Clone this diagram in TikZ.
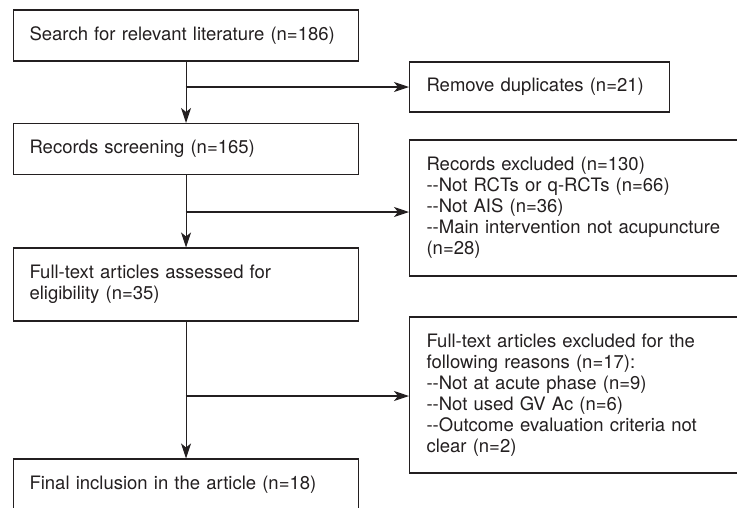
\documentclass[tikz,border=0pt]{standalone}
\usepackage{xcolor}
\usepackage{fontspec}
\setmainfont{TeX Gyre Heros}
\usepackage{tikz}
\usetikzlibrary{arrows.meta}
\usetikzlibrary{positioning}
\definecolor{ink}{HTML}{231F20}
\tikzset{>={Stealth[length=15pt, width=10pt, inset=4pt]}}
\tikzstyle{leftbox} = [rectangle, draw = ink, line width = 1.1pt, text = ink, align = left, inner xsep = 16pt, text width = 313pt, minimum height = 51pt, font = \fontsize{18.5}{21}\selectfont]
\tikzstyle{rightbox} = [leftbox, inner xsep = 17pt, text width = 320pt]
\tikzstyle{flow} = [->, draw = ink, line width = 1.1pt]
\newcommand{\dd}{-{}-}

\begin{document}
\begin{tikzpicture}[x = 1pt, y = -1pt]
\useasboundingbox (0, 0) rectangle (737, 507);
\node [leftbox, anchor = west] (search) at (13, 35.5) {Search for relevant literature (n=186)};
\node [leftbox, anchor = west] (screen) at (13, 149) {Records screening (n=165)};
\node [leftbox, anchor = west, minimum height = 73pt] (assess) at (13, 284.5) {Full-text articles assessed for\\eligibility (n=35)};
\node [leftbox, anchor = west] (final) at (13, 484.5) {Final inclusion in the article (n=18)};
\node [rightbox, anchor = west, text width = 226pt, minimum height = 50pt] (dup) at (409, 87) {Remove duplicates (n=21)};
\node [rightbox, anchor = west, minimum height = 136pt] (excl) at (409, 208) {Records excluded (n=130)\\\dd Not RCTs or q-RCTs (n=66)\\\dd Not AIS (n=36)\\\dd Main intervention not acupuncture\\(n=28)};
\node [rightbox, anchor = west, minimum height = 156pt] (ftexcl) at (409, 395) {Full-text articles excluded for the\\following reasons (n=17):\\\dd Not at acute phase (n=9)\\\dd Not used GV Ac (n=6)\\\dd Outcome evaluation criteria not\\clear (n=2)};
% branch points on the main line
\coordinate (b1) at (185.5, 87);
\coordinate (b2) at (185.5, 212);
\coordinate (b3) at (185.5, 396);
\draw [flow] (search) -- (screen);
\draw [flow] (screen) -- (assess);
\draw [flow] (assess) -- (final);
\draw [flow] (b1) -- (b1 -| dup.west);
\draw [flow] (b2) -- (b2 -| excl.west);
\draw [flow] (b3) -- (b3 -| ftexcl.west);
\end{tikzpicture}
\end{document}
